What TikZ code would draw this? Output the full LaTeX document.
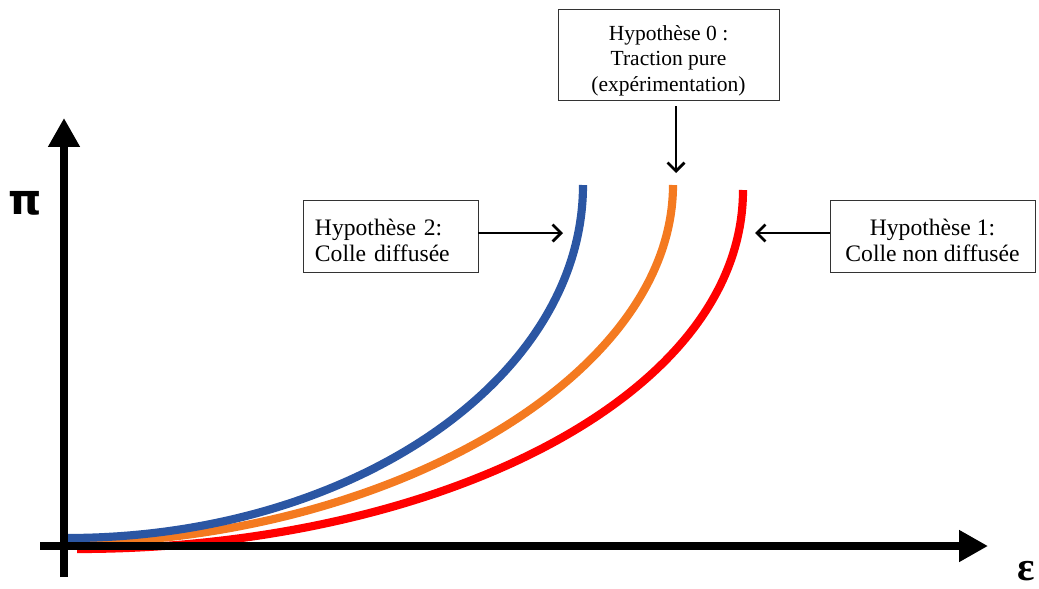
\documentclass[tikz,border=0pt]{standalone}
\usepackage{fontspec}
\setmainfont{Liberation Serif}
\newfontfamily\symbfont{DejaVu Sans}
\usetikzlibrary{arrows.meta, positioning, calc}
\definecolor{curveblue}{HTML}{2B56A3}
\definecolor{curveorange}{HTML}{F47A20}
\definecolor{curvered}{HTML}{FF0000}
\newcommand{\topgap}[1]{\rule{0pt}{#1}}

\begin{document}
\begin{tikzpicture}[
    x=0.025cm, y=-0.025cm,
    hypbox/.style={rectangle, draw=black!80, line width=0.6pt, fill=white,
                   font=\fontsize{16.8}{18.6}\selectfont, inner sep=0pt,
                   align=center, minimum height=1.8cm},
    axis/.style={line width=5pt, -{Triangle[length=0.72cm, width=0.75cm]}},
    curve/.style={line width=5.8pt},
    pointer/.style={line width=2pt, -{Straight Barb[length=6pt, width=12pt, line width=2pt]}},
  ]
  \useasboundingbox (0,0) rectangle (1039,588);

  % curves
  \draw[curve, curvered] (77,549) .. controls (430,549) and (743,400) .. (743,190);
  \draw[curve, curveorange] (64,543) .. controls (380,543) and (673,380) .. (673,185);
  \draw[curve, curveblue] (67,538) .. controls (350,538) and (583,380) .. (583,185);

  % axes
  \coordinate (ybot) at (64,577);
  \coordinate (ytop) at (64,118);
  \coordinate (xleft) at (40,546);
  \coordinate (xright) at (988,546);
  \draw[axis] (ybot) -- (ytop);
  \draw[axis] (xleft) -- (xright);
  \node[font=\symbfont\bfseries\fontsize{30}{30}\selectfont] (pi) at (25,203) {π};
  \node[font=\bfseries\fontsize{29}{29}\selectfont, anchor=east, inner sep=0pt] (eps) at (1035,571) {ε};

  % hypotheses
  \node[hypbox, font=\fontsize{15.3}{18.2}\selectfont, minimum width=5.525cm, minimum height=2.275cm] (hyp0) at (668.5,54.5)
    {\topgap{0.68cm}Hypothèse 0 :\\Traction pure\\(expérimentation)};
  \node[hypbox, minimum width=4.375cm, text width=3.775cm, inner xsep=0.3cm, align=left] (hyp2) at (390.5,236)
    {\topgap{0.62cm}Hypothèse 2:\\Colle diffusée};
  \node[hypbox, minimum width=5.125cm] (hyp1) at (932.5,236)
    {\topgap{0.62cm}Hypothèse 1:\\Colle non diffusée};

  \coordinate (tip0) at (676,173);
  \coordinate (tip2) at (563,233);
  \coordinate (tip1) at (755,233);
  \draw[pointer, shorten <=4pt] (hyp0.south -| tip0) -- (tip0);
  \draw[pointer] (hyp2.east |- tip2) -- (tip2);
  \draw[pointer] (hyp1.west |- tip1) -- (tip1);

\end{tikzpicture}
\end{document}
